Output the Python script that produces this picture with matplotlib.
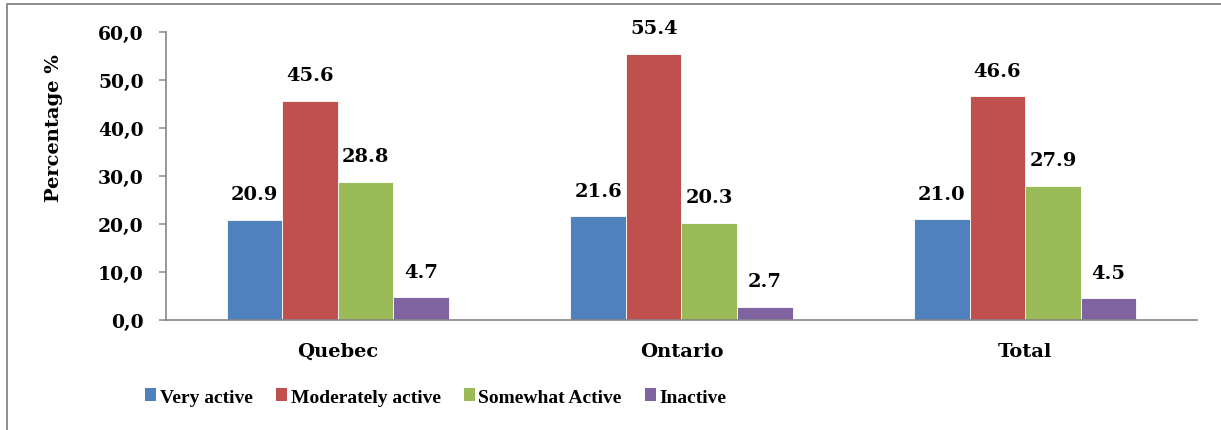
import matplotlib.pyplot as plt
import numpy as np
from matplotlib.patches import Rectangle, Patch

regions = ["Quebec", "Ontario", "Total"]
levels = ["Very active", "Moderately active", "Somewhat Active", "Inactive"]
very_active = [20.9, 21.6, 21.0]
moderately_active = [45.6, 55.4, 46.6]
somewhat_active = [28.8, 20.3, 27.9]
inactive = [4.7, 2.7, 4.5]
yticks = [0, 10, 20, 30, 40, 50, 60]
colors = ["#4F81BD", "#C0504D", "#9BBB59", "#8064A2"]

serif = ["DejaVu Serif"]
narrow = ["Liberation Serif", "DejaVu Serif"]

fig = plt.figure(figsize=(12.21, 4.31), dpi=100)
ax = fig.add_axes([166 / 1221, 110 / 431, 1031 / 1221, 288 / 431])

x = np.arange(len(regions))
w = 0.1615
series = [very_active, moderately_active, somewhat_active, inactive]
for i, (vals, c) in enumerate(zip(series, colors)):
    bars = ax.bar(x + (i - 1.5) * w, vals, w, color=c, edgecolor="white", linewidth=0.6, label=levels[i])
    for b, v in zip(bars, vals):
        ax.annotate(f"{v:.1f}", (b.get_x() + b.get_width() / 2, v), xytext=(0, 18.5),
                    textcoords="offset points", ha="center", va="center",
                    fontsize=14, fontweight="bold", family=serif)

ax.set_xlim(-0.5, 2.5)
ax.set_ylim(0, 60)
ax.set_yticks(yticks)
ax.set_yticklabels([f"{t:.1f}".replace(".", ",") for t in yticks], fontsize=13.5, fontweight="bold", family=serif)
ax.set_xticks(x)
ax.set_xticklabels(regions, fontsize=14, fontweight="bold", family=serif)
ax.tick_params(axis="x", length=0, pad=16)
ax.tick_params(axis="y", length=5, width=1.1, color="#868686", pad=11)
for s in ["top", "right"]:
    ax.spines[s].set_visible(False)
for s in ["left", "bottom"]:
    ax.spines[s].set_color("#868686")
    ax.spines[s].set_linewidth(1.2)
ax.set_ylabel("Percentage %", fontsize=14, fontweight="bold", family=serif)
ax.yaxis.set_label_coords(-0.1, 0.67)

handles = [Patch(facecolor=c, edgecolor="none") for c in colors]
leg = fig.legend(handles, levels, loc="center", bbox_to_anchor=(436 / 1221, 33 / 431), ncol=4,
                 frameon=False, handlelength=0.55, handleheight=0.6, handletextpad=0.2,
                 columnspacing=1.2, prop={"family": narrow, "weight": "bold", "size": 14})

# outer frame of the chart area
fig.add_artist(Rectangle((7 / 1221, -0.2), 2, 1.2 - 5 / 431, transform=fig.transFigure,
                         fill=False, edgecolor="#868686", linewidth=1.3))

fig.savefig("out.png", dpi=100)
